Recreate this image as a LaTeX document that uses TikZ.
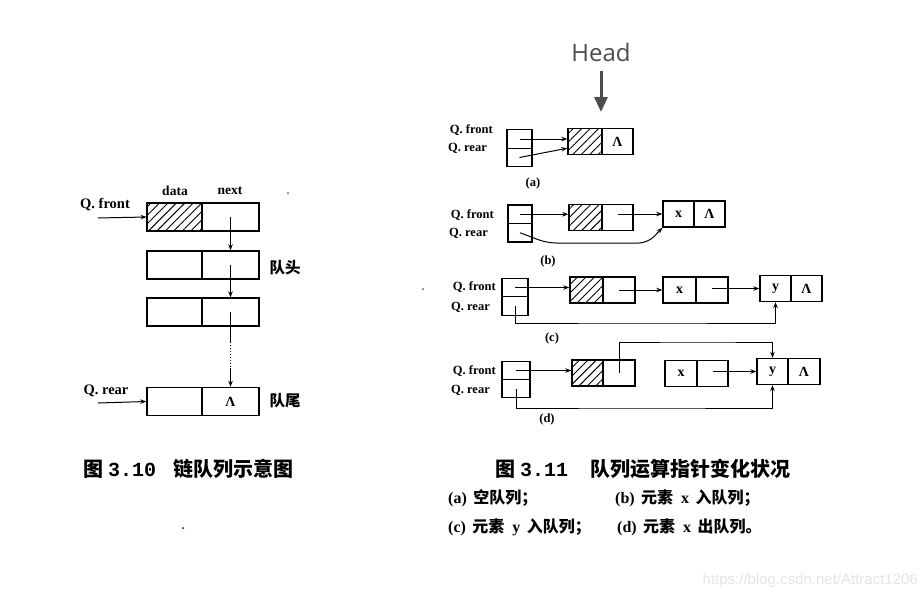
\documentclass[tikz,border=0pt]{standalone}
\usepackage{fontspec}
\setmainfont{Liberation Serif}
\setmonofont{Liberation Mono}
\newfontfamily\cjk{Noto Sans CJK SC}
\newfontfamily\headfont{Open Sans}
\newfontfamily\wmfont{Liberation Sans}
\usetikzlibrary{arrows.meta,patterns.meta,calc}
\newcommand{\fs}[1]{\fontsize{#1}{#1}\selectfont}
\newcommand{\zh}[1]{{\cjk\bfseries #1}}
\begin{document}
\begin{tikzpicture}[x=1pt,y=-1pt,
  cell/.style={draw, line width=1.4pt, inner sep=0pt, minimum height=26pt, font=\bfseries\fs{14}},
  bigcell/.style={cell, minimum height=28pt},
  hat/.style={pattern={Lines[angle=45,distance=6pt,line width=0.9pt]}},
  pc/.style={draw, line width=1.4pt, inner sep=0pt, minimum width=24pt, minimum height=18.5pt},
  ptr/.style={line width=1pt, -{Stealth[length=6pt,width=4.5pt]}},
  lbl/.style={font=\bfseries\fs{12.5}, inner sep=0pt},
  biglbl/.style={font=\bfseries\fs{14.5}, inner sep=0pt},
  captext/.style={inner sep=0pt, anchor=west, font=\fs{20}},
  subcap/.style={inner sep=0pt, anchor=west, font=\fs{16}},
  speck/.style={fill=black!70, circle, inner sep=0pt, minimum size=2pt}
]
\useasboundingbox[fill=white] (0,0) rectangle (924,600);

% ---------------- left figure ----------------
\node[bigcell, hat, minimum width=55pt] (L1d) at (174.5,217) {};
\node[bigcell, minimum width=57pt] (L1n) at (230.5,217) {};
\node[bigcell, minimum width=55pt] (L2d) at (174.5,265) {};
\node[bigcell, minimum width=57pt] (L2n) at (230.5,265) {};
\node[bigcell, minimum width=55pt] (L3d) at (174.5,312) {};
\node[bigcell, minimum width=57pt] (L3n) at (230.5,312) {};
\node[bigcell, minimum width=55pt] (L4d) at (174.5,401.5) {};
\node[bigcell, minimum width=57pt] (L4n) at (230.5,401.5) {Λ};

\node[lbl, font=\bfseries\fs{13.5}] (data) at (175,191) {data};
\node[lbl, font=\bfseries\fs{13.5}] (next) at (230,191) {next};
\node[speck] (dot1) at (288,193) {};

\node[biglbl] (qfL) at (105,205) {Q. front};
\node[biglbl] (qrL) at (106,391) {Q. rear};
\coordinate (qfLs) at (98,218);
\coordinate (qrLs) at (98,403);
\draw[ptr] (qfLs) -- (L1d.west);
\draw[ptr] (qrLs) -- (L4d.west);

\node[inner sep=0pt, font=\cjk\bfseries\fs{15.5}] (head1) at (285,268) {队头};
\node[inner sep=0pt, font=\cjk\bfseries\fs{15.5}] (tail1) at (285,401) {队尾};

\draw[ptr] (L1n.center) -- (L2n.north);
\draw[ptr] (L2n.center) -- (L3n.north);
\coordinate (gap1) at (230.5,342);
\coordinate (gap2) at (230.5,368);
\draw[line width=1pt] (L3n.center) -- (gap1);
\draw[line width=1pt, dotted] (gap1) -- (gap2);
\draw[ptr] (gap2) -- (L4n.north);

\node[captext] (capL) at (83,469) {\zh{图} {\ttfamily\bfseries 3.10}\hspace{0.85em}\zh{链队列示意图}};
\node[speck, minimum size=2.5pt] (dot2) at (183,528) {};

% ---------------- right figure ----------------
% Head marker
\node[inner sep=0pt, text=black!70, font=\headfont\fs{24}] (head) at (601,52) {Head};
\coordinate (headtip) at (601,112);
\draw[draw=black!70, line width=3pt, -{Triangle[length=15pt,width=13pt]}] ($(head.south)+(0,10)$) -- (headtip);

% (a)
\node[pc, minimum width=25pt] (PAf) at (519.5,139) {};
\node[pc, minimum width=25pt] (PAr) at (519.5,157.5) {};
\node[cell, hat, minimum width=34pt] (A1d) at (585,141.5) {};
\node[cell, minimum width=31pt] (A1n) at (617.5,141.5) {Λ};
\node[lbl, anchor=east] (qfA) at (493,130) {Q. front};
\node[lbl, anchor=east] (qrA) at (487,148) {Q. rear};
\draw[ptr] (PAf.center) -- (A1d.west |- PAf.center);
\draw[ptr] (PAr.center) -- ($(A1d.south west)+(0,-7)$);
\node[lbl] (la) at (533,183) {(a)};

% (b)
\node[pc] (PBf) at (520,214.25) {};
\node[pc] (PBr) at (520,232.75) {};
\node[cell, hat, minimum width=33pt] (B1d) at (585.5,217.5) {};
\node[cell, minimum width=31pt] (B1n) at (617.5,217.5) {};
\node[cell, minimum width=31pt] (B2d) at (678.5,214) {x};
\node[cell, minimum width=31pt] (B2n) at (709.5,214) {Λ};
\node[lbl, anchor=east] (qfB) at (494,215) {Q. front};
\node[lbl, anchor=east] (qrB) at (488,233) {Q. rear};
\draw[ptr] (PBf.center) -- (B1d.west |- PBf.center);
\draw[ptr] (B1n.center |- B2d.west) -- (B2d.west);
\coordinate (b1) at (547,243);
\coordinate (b2) at (648,243);
\draw[ptr, rounded corners=9pt] (PBr.center) -- (b1) -- (b2) -- (B2d.south west);
\node[lbl] (lb) at (548,261) {(b)};

% (c)
\node[pc, minimum width=26pt] (PCf) at (515,287.5) {};
\node[pc, minimum width=26pt] (PCr) at (515,306) {};
\node[cell, hat, minimum width=33pt] (C1d) at (586.5,290) {};
\node[cell, minimum width=32pt] (C1n) at (619,290) {};
\node[cell, minimum width=33pt] (C2d) at (679.5,290) {x};
\node[cell, minimum width=32pt] (C2n) at (712,290) {};
\node[cell, minimum width=31pt] (C3d) at (775.5,288.5) {y};
\node[cell, minimum width=31pt] (C3n) at (806.5,288.5) {Λ};
\node[lbl, anchor=east] (qfC) at (496,287) {Q. front};
\node[lbl, anchor=east] (qrC) at (490,307) {Q. rear};
\node[speck] (dot3) at (423,289) {};
\draw[ptr] (PCf.center) -- (C1d.west |- PCf.center);
\draw[ptr] (C1n.center) -- (C2d.west);
\draw[ptr] (C2n.center |- C3d.west) -- (C3d.west);
\coordinate (cc) at (640,323);
\draw[ptr] (PCr.center) |- (cc) -| (C3d.south);
\node[lbl] (lc) at (552,338) {(c)};

% (d)
\node[pc, minimum width=28pt] (PDf) at (516,370.5) {};
\node[pc, minimum width=28pt] (PDr) at (516,388.5) {};
\node[cell, hat, minimum width=31pt] (D1d) at (587.5,373) {};
\node[cell, minimum width=32pt] (D1n) at (619,373) {};
\node[cell, minimum width=32pt] (D2d) at (681,373.5) {x};
\node[cell, minimum width=31pt] (D2n) at (712.5,373.5) {};
\node[cell, minimum width=31pt] (D3d) at (772.5,371.5) {y};
\node[cell, minimum width=32pt] (D3n) at (804,371.5) {Λ};
\node[lbl, anchor=east] (qfD) at (496,371) {Q. front};
\node[lbl, anchor=east] (qrD) at (490,390) {Q. rear};
\draw[ptr] (PDf.center) -- (D1d.west |- PDf.center);
\coordinate (dtop) at (700,342);
\draw[ptr] (D1n.center) |- (dtop) -| (D3d.north);
\draw[ptr] (D2n.center |- D3d.west) -- (D3d.west);
\coordinate (dbot) at (640,408);
\draw[ptr] (PDr.center) |- (dbot) -| (D3d.south);
\node[lbl] (ld) at (547,419) {(d)};

% captions
\node[captext] (capR) at (495,469) {\zh{图} {\ttfamily\bfseries 3.11}\hspace{1.1em}\zh{队列运算指针变化状况}};
\node[subcap] (sa) at (448,498) {\textbf{(a)}\hspace{0.4em}\zh{空队列；}};
\node[subcap] (sb) at (615,498) {\textbf{(b)}\hspace{0.4em}\zh{元素}\hspace{0.5em}\textbf{x}\hspace{0.4em}\zh{入队列；}};
\node[subcap] (sc) at (448,527) {\textbf{(c)}\hspace{0.4em}\zh{元素}\hspace{0.5em}\textbf{y}\hspace{0.4em}\zh{入队列；}};
\node[subcap] (sd) at (617,527) {\textbf{(d)}\hspace{0.4em}\zh{元素}\hspace{0.5em}\textbf{x}\hspace{0.4em}\zh{出队列。}};

% watermark
\node[inner sep=0pt, anchor=east, text=black!10, font=\wmfont\fs{15}] (wm) at (918,581) {https://blog.csdn.net/Attract1206};
\end{tikzpicture}
\end{document}
